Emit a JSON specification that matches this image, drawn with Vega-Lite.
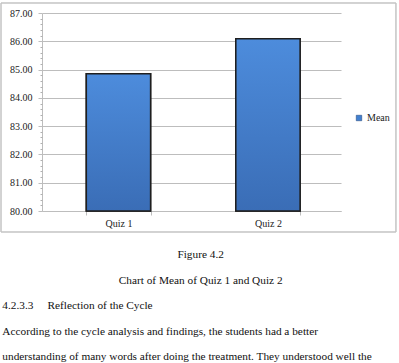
{
  "$schema": "https://vega.github.io/schema/vega-lite/v6.json",
  "padding": {"left": 0, "top": 2, "right": 0, "bottom": 0},
  "background": "white",
  "config": {
    "view": {"stroke": null},
    "font": "Liberation Serif",
    "axis": {"labelFont": "Liberation Serif", "labelFontSize": 10, "labelColor": "#222"},
    "concat": {"spacing": 16}
  },
  "vconcat": [
    {
      "width": 299,
      "height": 198,
      "data": {"values": [
        {"quiz": "Quiz 1", "mean": 84.85, "series": "Mean"},
        {"quiz": "Quiz 2", "mean": 86.09, "series": "Mean"}
      ]},
      "layer": [
        {
          "mark": {"type": "bar", "stroke": "#1f1f1f", "strokeWidth": 1.5},
          "encoding": {
            "x": {"field": "quiz", "type": "nominal",
              "scale": {"paddingInner": 0.57, "paddingOuter": 0.285, "align": 0.52},
              "axis": {"title": null, "labelAngle": 0, "tickBand": "extent", "tickSize": 4, "labelPadding": 3,
                "domainColor": "#bdbdbd", "tickColor": "#bdbdbd"}},
            "y": {"field": "mean", "type": "quantitative",
              "scale": {"domain": [80, 87], "zero": false, "nice": false},
              "axis": {"title": null, "values": [80, 81, 82, 83, 84, 85, 86, 87], "format": ".2f", "grid": true,
                "gridColor": "#bdbdbd", "domainColor": "#bdbdbd", "tickColor": "#bdbdbd", "tickSize": 4, "labelPadding": 6}},
            "y2": {"datum": 80},
            "color": {"field": "series", "type": "nominal", "scale": {"range": ["#4180d0"]},
              "legend": {"title": null, "orient": "none", "legendX": 312, "legendY": 100, "symbolType": "square", "symbolSize": 30,
                "symbolStrokeColor": "#1d3f75", "symbolStrokeWidth": 0.5, "labelFontSize": 10, "labelColor": "#222",
                "labelFont": "Liberation Serif", "labelOffset": 3}}
          }
        },
        {
          "mark": {"type": "bar", "stroke": "#1f1f1f", "strokeWidth": 1.5,
            "fill": {"gradient": "linear", "x1": 0, "y1": 0, "x2": 0, "y2": 1,
              "stops": [{"offset": 0, "color": "#4d8cdc"}, {"offset": 1, "color": "#3a6db6"}]}},
          "encoding": {
            "x": {"field": "quiz", "type": "nominal",
              "axis": {"title": null, "labelAngle": 0, "tickBand": "extent", "tickSize": 4, "labelPadding": 3,
                "domainColor": "#bdbdbd", "tickColor": "#bdbdbd"}},
            "y": {"field": "mean", "type": "quantitative", "axis": null},
            "y2": {"datum": 80}
          }
        },
        {
          "mark": {"type": "rect", "fill": "transparent", "stroke": "#c4c4c4", "strokeWidth": 1},
          "encoding": {
            "x": {"datum": "Quiz 1", "type": "nominal", "bandPosition": -1.327,
              "axis": {"title": null, "labelAngle": 0, "tickBand": "extent", "tickSize": 4, "labelPadding": 3,
                "domainColor": "#bdbdbd", "tickColor": "#bdbdbd"}},
            "x2": {"datum": "Quiz 2", "bandPosition": 2.491},
            "y": {"datum": 87.354, "type": "quantitative",
              "axis": {"title": null, "orient": "left", "labels": false, "grid": false, "domain": false, "tickSize": 2, "tickColor": "#b0b0b0",
                "values": [80.2, 80.4, 80.6, 80.8, 81.2, 81.4, 81.6, 81.8, 82.2, 82.4, 82.6, 82.8, 83.2, 83.4, 83.6, 83.8,
                  84.2, 84.4, 84.6, 84.8, 85.2, 85.4, 85.6, 85.8, 86.2, 86.4, 86.6, 86.8]}},
            "y2": {"datum": 79.258}
          }
        }
      ],
      "resolve": {"axis": {"y": "independent"}}
    },
    {
      "width": 357,
      "height": 102,
      "encoding": {
        "y": {"field": "line", "type": "quantitative", "scale": {"domain": [1, 5], "reverse": true}, "axis": null},
        "text": {"field": "text"}
      },
      "layer": [
        {
          "data": {"values": [
            {"line": 1, "text": "Figure 4.2"},
            {"line": 2, "text": "Chart of Mean of Quiz 1 and Quiz 2"}
          ]},
          "mark": {"type": "text", "font": "Liberation Serif", "fontSize": 11.3, "color": "#111", "align": "center", "baseline": "middle"},
          "encoding": {
            "x": {"datum": 0.5, "type": "quantitative", "scale": {"domain": [0.1075, 1]}, "axis": null}
          }
        },
        {
          "data": {"values": [
            {"line": 3, "text": "4.2.3.3\u00a0\u00a0\u00a0\u00a0 Reflection of the Cycle"},
            {"line": 4, "text": "According to the cycle analysis and findings, the students had a better"},
            {"line": 5, "text": "understanding of many words after doing the treatment. They understood well the"}
          ]},
          "mark": {"type": "text", "font": "Liberation Serif", "fontSize": 11.3, "color": "#111", "align": "left", "baseline": "middle"},
          "encoding": {
            "x": {"datum": 0, "type": "quantitative", "axis": null}
          }
        }
      ]
    }
  ]
}
